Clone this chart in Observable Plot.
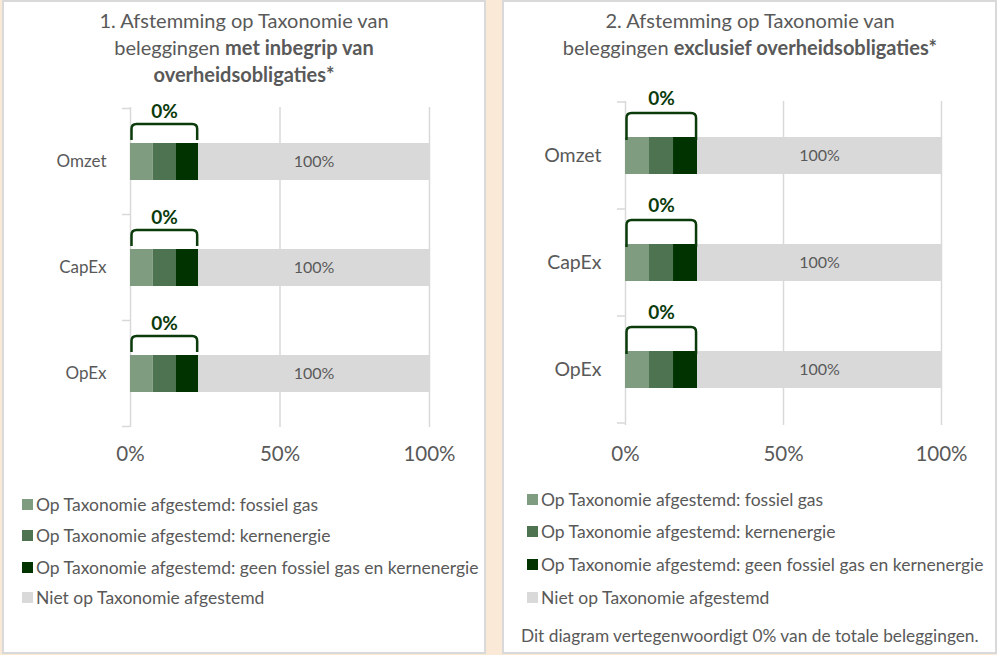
<!DOCTYPE html>
<html><head><meta charset="utf-8">
<script src="https://cdn.jsdelivr.net/npm/d3@7"></script>
<script src="https://cdn.jsdelivr.net/npm/@observablehq/plot@0.6"></script>
<style>
body{margin:0;width:997px;height:655px;background:#FBE9D8;position:relative;overflow:hidden;font-family:Lato,"Noto Sans",sans-serif;color:#595959}
.panel{position:absolute;top:0;height:654px;background:#fff;border:2px solid #d9d9d9;box-sizing:border-box}
.title{position:absolute;text-align:center;font-size:20px;line-height:27px;white-space:nowrap}
.title b{font-weight:700}
.chart{position:absolute}
.legend{position:absolute;font-size:17.5px;white-space:nowrap}
.legend .item{position:absolute;left:0;display:flex;align-items:center;height:22px}
.legend .sw{width:11px;height:11px;margin-right:3px;flex:none}
.foot{position:absolute;font-size:17.3px;white-space:nowrap}
</style></head>
<body>
<div class="panel" style="left:2px;width:484px"></div>
<div class="panel" style="left:502px;width:495px"></div>
<div class="title" id="t1" style="left:44px;width:400px;top:7px">1. Afstemming op Taxonomie van<br>beleggingen <b>met inbegrip van</b><br><b>overheidsobligaties*</b></div>
<div class="title" id="t2" style="left:550px;width:400px;top:7px">2. Afstemming op Taxonomie van<br>beleggingen <b>exclusief overheidsobligaties*</b></div>
<div class="chart" id="c1" style="left:0;top:90px"></div>
<div class="chart" id="c2" style="left:502px;top:85px"></div>
<div class="legend" id="l1" style="left:22px;top:0"></div>
<div class="legend" id="l2" style="left:527px;top:0"></div>
<div class="foot" style="left:521px;top:625px">Dit diagram vertegenwoordigt 0% van de totale beleggingen.</div>
<script>
// ---- data ----
const categories = ["Omzet", "CapEx", "OpEx"];
const seriesNames = [
  "Op Taxonomie afgestemd: fossiel gas",
  "Op Taxonomie afgestemd: kernenergie",
  "Op Taxonomie afgestemd: geen fossiel gas en kernenergie",
  "Niet op Taxonomie afgestemd"
];
const seriesColors = ["#809C80", "#4D7350", "#003300", "#D9D9D9"];
// drawn segment widths (share of the 0–100% axis, as pictured)
const p1FossielGas = [7.6, 7.6, 7.6];
const p1Kernenergie = [7.6, 7.6, 7.6];
const p1Geen = [7.6, 7.6, 7.6];
const p1Niet = [77.2, 77.2, 77.2];
const p2FossielGas = [7.6, 7.6, 7.6];
const p2Kernenergie = [7.6, 7.6, 7.6];
const p2Geen = [7.6, 7.6, 7.6];
const p2Niet = [77.2, 77.2, 77.2];
// value labels
const p1AlignedLabels = ["0%", "0%", "0%"];
const p1NietLabels = ["100%", "100%", "100%"];
const p2AlignedLabels = ["0%", "0%", "0%"];
const p2NietLabels = ["100%", "100%", "100%"];
const xTicks = [0, 50, 100];
const xTickLabels = ["0%", "50%", "100%"];

function makePanel(cfg) {
  const series = [cfg.fossiel, cfg.kern, cfg.geen, cfg.niet];
  const rows = [];
  categories.forEach((c, i) => {
    series.forEach((s, j) => {
      rows.push({cat: c, series: seriesNames[j], value: s[i], label: j === 3 ? cfg.nietLabels[i] : ""});
    });
  });
  const aligned = categories.map((c, i) => ({cat: c, total: cfg.fossiel[i] + cfg.kern[i] + cfg.geen[i], label: cfg.alignedLabels[i]}));
  const green = "#0B3B0B";
  const bracket = (index, scales) => {
    const x = scales.x, y = scales.y;
    const g = d3.create("svg:g");
    aligned.forEach(d => {
      const x0 = x(0) + 1.5, x1 = x(d.total) - 1;
      const yb = y(d.cat) + cfg.bracketDrop;
      const yt = y(d.cat) - cfg.bracketRise;
      const r = 5;
      g.append("path")
        .attr("d", `M${x0},${yb}V${yt + r}Q${x0},${yt} ${x0 + r},${yt}H${x1 - r}Q${x1},${yt} ${x1},${yt + r}V${yb}`)
        .attr("fill", "none").attr("stroke", green).attr("stroke-width", 2.5);
    });
    return g.node();
  };
  const bandTicks = (index, scales) => {
    const x = scales.x, y = scales.y;
    const bw = typeof y.bandwidth === "function" ? y.bandwidth() : y.bandwidth;
    const step = typeof y.step === "function" ? y.step() : y.step;
    const g = d3.create("svg:g");
    const ys = categories.map(c => y(c) + bw / 2 - step / 2);
    ys.push(ys[ys.length - 1] + step);
    ys.forEach(v => g.append("line").attr("x1", x(0) - 8).attr("x2", x(0)).attr("y1", v).attr("y2", v)
      .attr("stroke", "#d9d9d9").attr("stroke-width", 1.5));
    return g.node();
  };
  return Plot.plot({
    width: cfg.width, height: cfg.height,
    marginLeft: cfg.ml, marginRight: cfg.mr, marginTop: cfg.mt, marginBottom: cfg.mb,
    style: {fontFamily: "Lato, 'Noto Sans', sans-serif", color: "#595959", background: "transparent", overflow: "visible"},
    x: {domain: [0, 100], axis: null},
    y: {domain: categories, paddingInner: 0.653, paddingOuter: 0.327, axis: null},
    color: {domain: seriesNames, range: seriesColors},
    marks: [
      Plot.ruleX(xTicks, {stroke: "#d9d9d9", strokeWidth: 1.5}),
      bandTicks,
      Plot.barX(rows, Plot.stackX({x: "value", y: "cat", fill: "series", order: null})),
      Plot.text(rows, Plot.stackX({x: "value", y: "cat", text: "label", order: null, fill: "#595959", fontSize: 16})),
      bracket,
      Plot.text(aligned, {x: d => d.total / 2, y: "cat", text: "label", dy: cfg.labelDy, fill: green, fontWeight: "bold", fontSize: 19}),
      Plot.axisX(xTicks, {tickSize: 0, tickPadding: cfg.xPad, tickFormat: (d, i) => xTickLabels[i], fontSize: 20.5, fill: "#595959", label: null}),
      Plot.axisY({tickSize: 0, tickPadding: 24, fontSize: cfg.yFont, fill: "#595959", label: null})
    ]
  });
}

document.getElementById("c1").append(makePanel({
  width: 485, height: 400, ml: 130, mr: 56, mt: 17, mb: 63, xPad: 19, yFont: 17,
  fossiel: p1FossielGas, kern: p1Kernenergie, geen: p1Geen, niet: p1Niet,
  alignedLabels: p1AlignedLabels, nietLabels: p1NietLabels,
  bracketRise: 19, bracketDrop: -3, labelDy: -50
}));
document.getElementById("c2").append(makePanel({
  width: 495, height: 400, ml: 123, mr: 56, mt: 16, mb: 60, xPad: 21, yFont: 19.5,
  fossiel: p2FossielGas, kern: p2Kernenergie, geen: p2Geen, niet: p2Niet,
  alignedLabels: p2AlignedLabels, nietLabels: p2NietLabels,
  bracketRise: 24, bracketDrop: 3, labelDy: -57
}));

function makeLegend(id, centers) {
  const el = document.getElementById(id);
  seriesNames.forEach((n, i) => {
    const it = document.createElement("div");
    it.className = "item";
    it.style.top = (centers[i] - 11) + "px";
    it.innerHTML = `<span class="sw" style="background:${seriesColors[i]}"></span><span>${n}</span>`;
    el.append(it);
  });
}
makeLegend("l1", [504, 535, 567, 597]);
makeLegend("l2", [499, 531, 564, 597]);
</script>
</body></html>
